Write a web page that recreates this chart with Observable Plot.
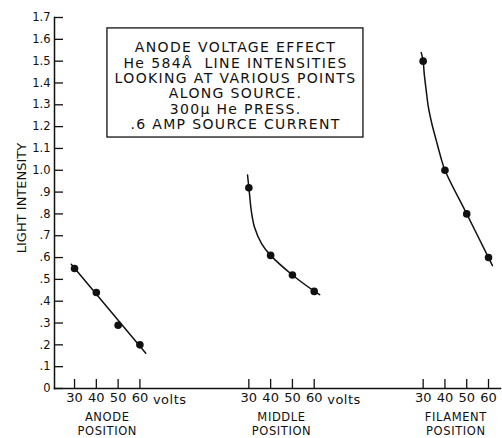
<!DOCTYPE html>
<html>
<head>
<meta charset="utf-8">
<script src="https://cdn.jsdelivr.net/npm/d3@7"></script>
<script src="https://cdn.jsdelivr.net/npm/@observablehq/plot@0.6"></script>
<style>
  html, body { margin: 0; padding: 0; background: #fff; }
  svg { font-family: "DejaVu Sans", sans-serif; }
</style>
</head>
<body>
<div id="chart"></div>
<script>
// ---- data ----
const volts = [30, 40, 50, 60];
const groups = ["anode", "middle", "filament"];
const groupOffset = [0, 80, 160];           // horizontal shift of each group on the volt axis
const groupLabels = ["ANODE\nPOSITION", "MIDDLE\nPOSITION", "FILAMENT\nPOSITION"];
const anodeValues = [0.55, 0.44, 0.29, 0.20];
const middleValues = [0.92, 0.61, 0.52, 0.445];
const filamentValues = [1.50, 1.00, 0.80, 0.60];

// hand-drawn curves as traced on the reference (volts, intensity)
const anodeCurveV = [28.5, 62.7];
const anodeCurveY = [0.569, 0.162];
const middleCurveV = [29.4, 30, 30.3, 31.1, 32.6, 35.9, 40, 50, 60, 62.5];
const middleCurveY = [0.978, 0.92, 0.892, 0.816, 0.739, 0.663, 0.61, 0.52, 0.446, 0.43];
const filamentCurveV = [29.1, 30, 30.5, 31.4, 32.4, 34.0, 36.0, 38.1, 40, 50, 60, 61.8];
const filamentCurveY = [1.54, 1.50, 1.442, 1.366, 1.289, 1.213, 1.137, 1.060, 1.00, 0.80, 0.60, 0.563];

const yTicks = [0, 0.1, 0.2, 0.3, 0.4, 0.5, 0.6, 0.7, 0.8, 0.9, 1.0, 1.1, 1.2, 1.3, 1.4, 1.5, 1.6, 1.7];
const yLabel = "LIGHT INTENSITY";
const voltsLabel = "volts";
const noteLines = [
  "ANODE VOLTAGE EFFECT",
  "He 584Å  LINE INTENSITIES",
  "LOOKING AT VARIOUS POINTS",
  "ALONG SOURCE.",
  "300μ He PRESS.",
  ".6 AMP SOURCE CURRENT"
];
const noteBox = {x1: 45.1, x2: 162.6, y1: 1.150, y2: 1.650};
const noteAnchor = {x: 103.9, y: 1.387};

// ---- build tables ----
const valueSets = [anodeValues, middleValues, filamentValues];
const points = groups.flatMap((g, gi) =>
  volts.map((v, i) => ({group: g, u: groupOffset[gi] + v, y: valueSets[gi][i]})));
const curveSets = [[anodeCurveV, anodeCurveY], [middleCurveV, middleCurveY], [filamentCurveV, filamentCurveY]];
const curves = groups.flatMap((g, gi) =>
  curveSets[gi][0].map((v, i) => ({group: g, u: groupOffset[gi] + v, y: curveSets[gi][1][i]})));
const xTicks = groupOffset.flatMap(o => volts.map(v => o + v));
const groupIndex = u => Math.min(2, Math.floor((u - 20) / 80));
const groupRows = groups.map((g, gi) => ({u: groupOffset[gi] + 45, label: groupLabels[gi]}));
const voltsRows = [0, 1].map(gi => ({u: groupOffset[gi] + 60, label: voltsLabel}));

const fmtY = d => d === 0 ? "0" : (d >= 1 ? d.toFixed(1) : d.toFixed(1).replace(/^0/, ""));

const W = 502, H = 438, ML = 54, MR = 2, MT = 17, MB = 50;
const TICK = 9;

const chart = Plot.plot({
  width: W,
  height: H,
  marginLeft: ML,
  marginRight: MR,
  marginTop: MT,
  marginBottom: MB,
  style: {fontFamily: "DejaVu Sans, sans-serif", color: "#111", background: "#fff"},
  x: {type: "linear", domain: [20.8, 225.5]},
  y: {domain: [0, 1.7]},
  marks: [
    Plot.frame({anchor: "left", stroke: "#111", strokeWidth: 1.5}),
    Plot.frame({anchor: "bottom", stroke: "#111", strokeWidth: 1.5}),
    // inward-pointing tick marks
    Plot.tickY(yTicks, {y: d => d, stroke: "#111", strokeWidth: 1.3, insetRight: (W - ML - MR) - TICK}),
    Plot.tickX(xTicks, {x: d => d, stroke: "#111", strokeWidth: 1.3, insetTop: (H - MT - MB) - TICK}),
    Plot.axisY({ticks: yTicks, tickFormat: fmtY, tickSize: 0, tickPadding: 4, fontSize: 11.5, label: null}),
    Plot.axisX({ticks: xTicks, tickFormat: u => String(u - groupOffset[groupIndex(u)]), tickSize: 0, tickPadding: 4, fontSize: 13, label: null}),
    Plot.text(voltsRows, {x: "u", text: "label", frameAnchor: "bottom", dy: 11, dx: 13, textAnchor: "start", lineAnchor: "middle", fontSize: 13}),
    Plot.text(groupRows, {x: "u", text: "label", frameAnchor: "bottom", dy: 23, lineAnchor: "top", lineHeight: 1.18, fontSize: 11.5}),
    Plot.text([yLabel], {frameAnchor: "left", textAnchor: "middle", rotate: -90, dx: -33, dy: -5, fontSize: 13}),
    Plot.rect([noteBox], {x1: "x1", x2: "x2", y1: "y1", y2: "y2", fill: "none", stroke: "#111", strokeWidth: 1.3}),
    Plot.text([noteLines.join("\n")], {x: () => noteAnchor.x, y: () => noteAnchor.y, lineAnchor: "middle", lineHeight: 1.1, fontSize: 14}),
    Plot.line(curves, {x: "u", y: "y", z: "group", curve: "catmull-rom", stroke: "#111", strokeWidth: 1.5}),
    Plot.dot(points, {x: "u", y: "y", r: 3.8, fill: "#111"})
  ]
});

const allText = d3.select(chart).selectAll("text");
allText.filter(function () { return this.textContent.startsWith(noteLines[0]); }).style("letter-spacing", "1.35px");
allText.filter(function () { return this.textContent === voltsLabel; }).style("letter-spacing", "0.5px");
allText.filter(function () { return this.textContent.endsWith("POSITION"); }).style("letter-spacing", "0.6px");
document.getElementById("chart").appendChild(chart);
</script>
</body>
</html>
